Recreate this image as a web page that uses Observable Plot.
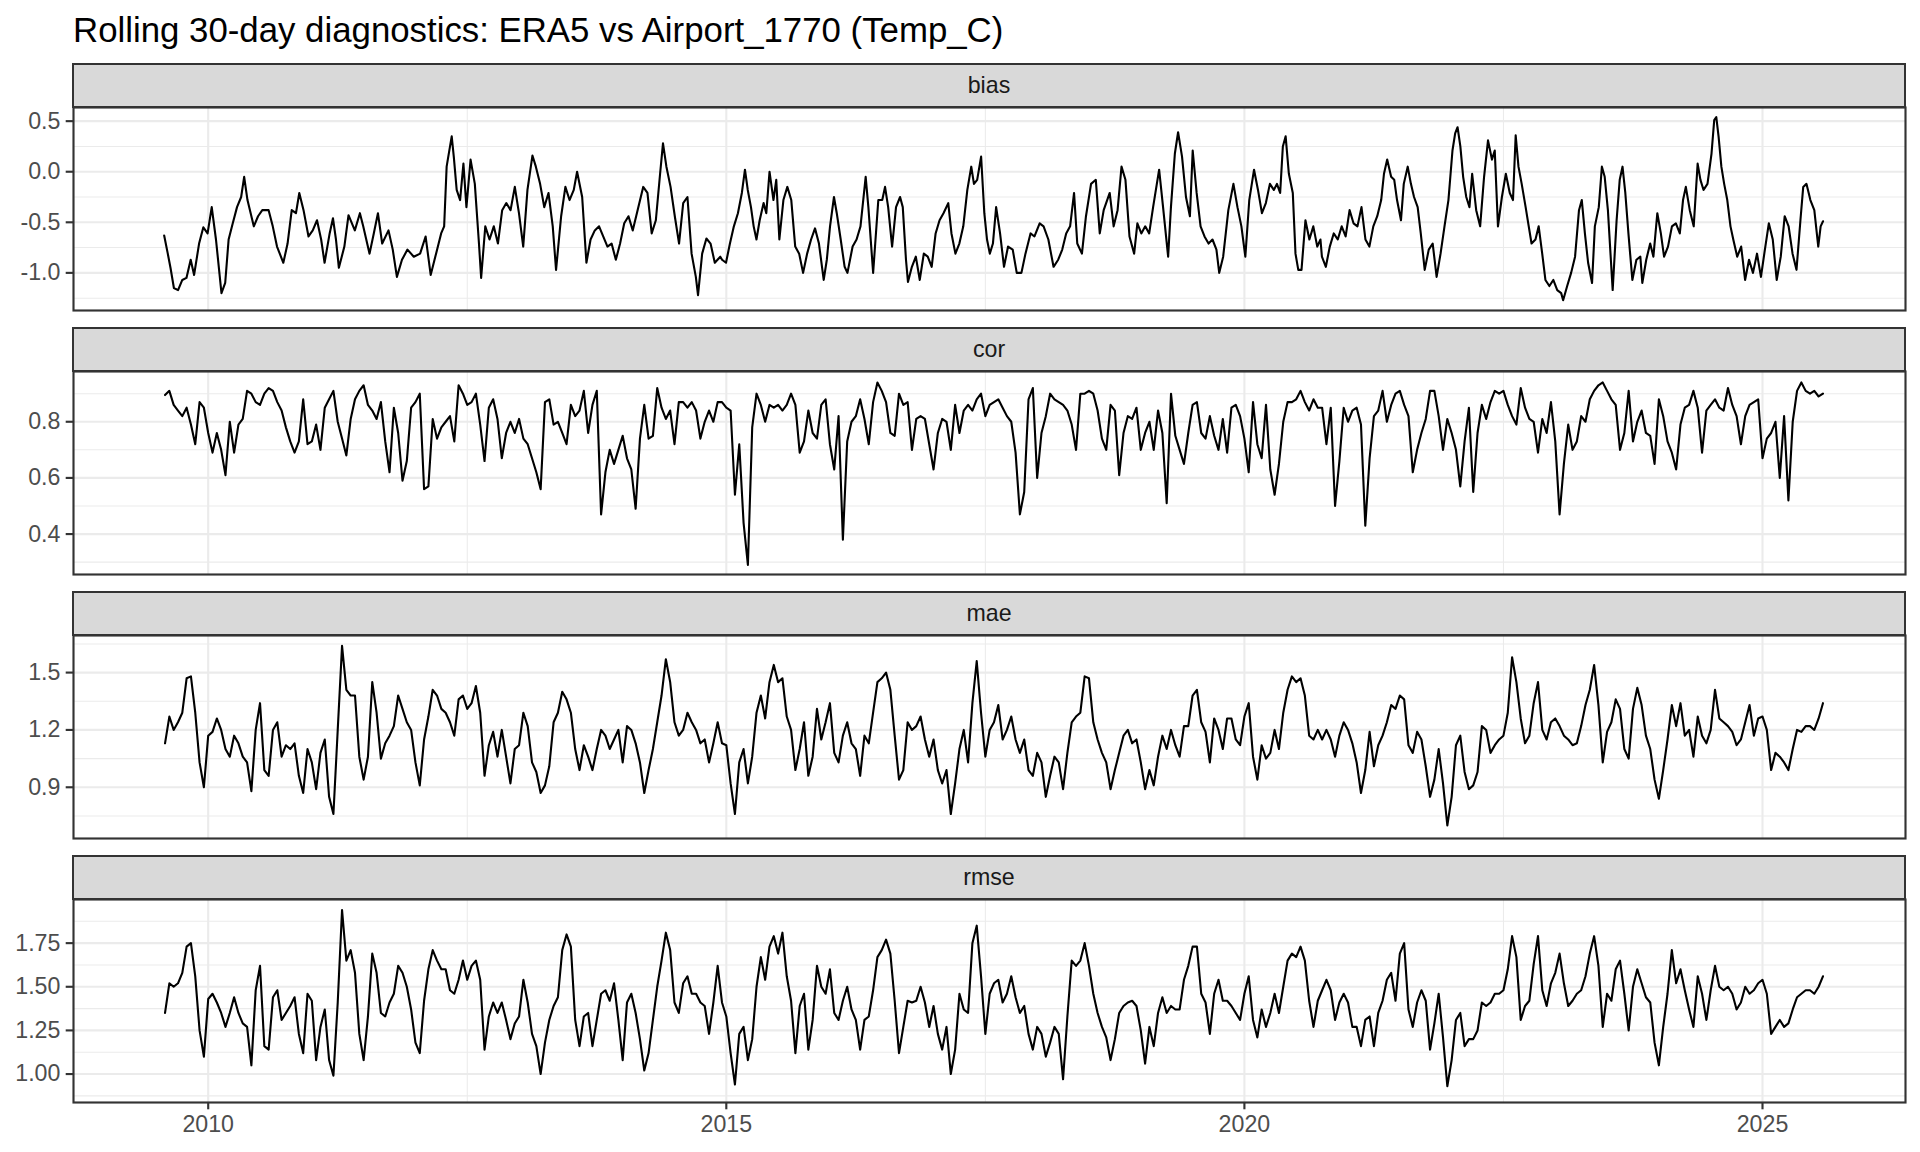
<!DOCTYPE html>
<html><head><meta charset="utf-8">
<script src="https://cdn.jsdelivr.net/npm/d3@7"></script>
<script src="https://cdn.jsdelivr.net/npm/@observablehq/plot@0.6"></script>
<style>
body{margin:0;background:#fff;}
#chart{position:relative;width:1920px;height:1152px;font-family:"Liberation Sans",Arial,sans-serif;overflow:hidden;}
.title{position:absolute;left:73px;top:9px;font-size:34.8px;line-height:1.2;color:#000;white-space:nowrap;}
.strip{position:absolute;left:72px;width:1834px;box-sizing:border-box;border:2px solid #333;background:#D9D9D9;color:#1A1A1A;font-size:23.2px;display:flex;align-items:center;justify-content:center;}
.panel{position:absolute;left:0;}
</style></head><body><div id="chart"></div><script>
const chartTitle = "Rolling 30-day diagnostics: ERA5 vs Airport_1770 (Temp_C)";
const facetNames = ["bias", "cor", "mae", "rmse"];
const yearTicks = [2010, 2015, 2020, 2025];
const yearMinor = [2012.5, 2017.5, 2022.5];

// bias: [decimal year, value]
const biasSeries = [
[2009.575,-0.63],[2009.608,-0.80],[2009.636,-0.95],[2009.669,-1.15],[2009.709,-1.17],[2009.750,-1.07],[2009.790,-1.05],[2009.831,-0.87],[2009.864,-1.02],[2009.912,-0.71],
[2009.953,-0.55],[2009.994,-0.61],[2010.034,-0.35],[2010.075,-0.67],[2010.128,-1.20],[2010.164,-1.10],[2010.197,-0.67],[2010.237,-0.51],[2010.278,-0.35],[2010.318,-0.25],
[2010.347,-0.05],[2010.379,-0.28],[2010.440,-0.54],[2010.481,-0.44],[2010.522,-0.38],[2010.583,-0.38],[2010.623,-0.54],[2010.664,-0.74],[2010.725,-0.90],[2010.766,-0.71],
[2010.806,-0.38],[2010.847,-0.41],[2010.879,-0.21],[2010.920,-0.38],[2010.968,-0.64],[2011.009,-0.58],[2011.050,-0.48],[2011.090,-0.67],[2011.123,-0.90],[2011.172,-0.61],
[2011.204,-0.46],[2011.233,-0.67],[2011.261,-0.95],[2011.314,-0.74],[2011.354,-0.43],[2011.415,-0.58],[2011.464,-0.41],[2011.496,-0.54],[2011.557,-0.81],[2011.598,-0.61],
[2011.638,-0.41],[2011.679,-0.71],[2011.740,-0.58],[2011.781,-0.77],[2011.821,-1.04],[2011.870,-0.87],[2011.923,-0.77],[2011.984,-0.84],[2012.045,-0.81],[2012.098,-0.64],
[2012.147,-1.02],[2012.199,-0.81],[2012.248,-0.61],[2012.277,-0.54],[2012.301,0.05],[2012.317,0.15],[2012.350,0.35],[2012.370,0.15],[2012.398,-0.18],[2012.431,-0.28],
[2012.463,0.08],[2012.492,-0.35],[2012.532,0.12],[2012.573,-0.12],[2012.613,-0.71],[2012.634,-1.05],[2012.674,-0.54],[2012.715,-0.67],[2012.756,-0.54],[2012.796,-0.71],
[2012.837,-0.38],[2012.877,-0.31],[2012.918,-0.38],[2012.959,-0.15],[2012.999,-0.41],[2013.040,-0.74],[2013.081,-0.18],[2013.129,0.16],[2013.162,0.05],[2013.203,-0.12],
[2013.243,-0.35],[2013.284,-0.21],[2013.325,-0.54],[2013.357,-0.97],[2013.406,-0.44],[2013.447,-0.15],[2013.487,-0.28],[2013.528,-0.18],[2013.560,0.00],[2013.609,-0.25],
[2013.650,-0.90],[2013.690,-0.67],[2013.731,-0.58],[2013.772,-0.54],[2013.812,-0.64],[2013.853,-0.74],[2013.893,-0.71],[2013.934,-0.87],[2013.975,-0.71],[2014.015,-0.51],
[2014.056,-0.44],[2014.097,-0.58],[2014.137,-0.41],[2014.198,-0.15],[2014.239,-0.21],[2014.280,-0.61],[2014.320,-0.48],[2014.361,-0.02],[2014.389,0.28],[2014.422,0.05],
[2014.462,-0.15],[2014.503,-0.44],[2014.544,-0.71],[2014.584,-0.31],[2014.625,-0.25],[2014.665,-0.81],[2014.706,-1.04],[2014.727,-1.22],[2014.767,-0.81],[2014.808,-0.66],
[2014.848,-0.71],[2014.889,-0.90],[2014.942,-0.84],
[2014.959,-0.87],[2014.997,-0.90],[2015.035,-0.71],[2015.073,-0.54],[2015.112,-0.41],[2015.150,-0.21],[2015.180,0.02],[2015.207,-0.18],[2015.238,-0.35],[2015.264,-0.54],
[2015.291,-0.67],[2015.322,-0.48],[2015.360,-0.31],[2015.386,-0.41],[2015.417,0.00],[2015.455,-0.28],[2015.482,-0.08],[2015.512,-0.67],[2015.551,-0.28],[2015.589,-0.15],
[2015.627,-0.28],[2015.665,-0.74],[2015.703,-0.81],[2015.741,-1.00],[2015.780,-0.81],[2015.818,-0.67],[2015.856,-0.56],[2015.894,-0.71],[2015.940,-1.07],[2015.970,-0.87],
[2016.001,-0.54],[2016.039,-0.25],[2016.066,-0.41],[2016.104,-0.67],[2016.142,-0.94],[2016.169,-1.00],[2016.219,-0.74],[2016.257,-0.67],[2016.295,-0.54],[2016.345,-0.05],
[2016.371,-0.35],[2016.417,-1.00],[2016.467,-0.28],[2016.505,-0.28],[2016.532,-0.15],[2016.562,-0.35],[2016.600,-0.74],[2016.638,-0.35],[2016.677,-0.25],[2016.703,-0.35],
[2016.734,-0.87],[2016.753,-1.09],[2016.791,-0.94],[2016.829,-0.84],[2016.867,-1.07],[2016.906,-0.81],[2016.944,-0.84],[2016.982,-0.94],[2017.020,-0.61],[2017.058,-0.48],
[2017.096,-0.41],[2017.142,-0.31],[2017.173,-0.61],[2017.211,-0.81],[2017.249,-0.71],[2017.287,-0.54],[2017.326,-0.18],[2017.364,0.05],[2017.390,-0.12],[2017.421,-0.08],
[2017.459,0.15],[2017.490,-0.41],[2017.516,-0.67],[2017.543,-0.81],[2017.573,-0.71],[2017.604,-0.35],[2017.642,-0.61],[2017.680,-0.94],[2017.719,-0.74],[2017.764,-0.77],
[2017.803,-1.00],[2017.848,-1.00],[2017.887,-0.81],[2017.936,-0.61],[2017.974,-0.64],[2018.024,-0.51],[2018.062,-0.54],[2018.108,-0.67],[2018.158,-0.94],[2018.203,-0.87],
[2018.242,-0.77],[2018.280,-0.61],[2018.318,-0.54],[2018.356,-0.21],[2018.387,-0.71],[2018.432,-0.81],[2018.471,-0.44],[2018.520,-0.12],[2018.566,-0.08],[2018.604,-0.61],
[2018.642,-0.38],[2018.700,-0.21],[2018.738,-0.54],[2018.776,-0.38],[2018.814,0.05],[2018.852,-0.08],[2018.891,-0.64],[2018.936,-0.81],[2018.967,-0.51],[2019.005,-0.61],
[2019.043,-0.54],[2019.081,-0.61],[2019.119,-0.35],[2019.177,0.02],[2019.215,-0.35],[2019.264,-0.84],[2019.291,-0.35],[2019.329,0.18],[2019.360,0.39],[2019.398,0.15],
[2019.436,-0.25],[2019.474,-0.44],[2019.501,0.21],[2019.539,-0.21],[2019.577,-0.54],[2019.615,-0.64],[2019.654,-0.71],[2019.692,-0.67],[2019.730,-0.77],[2019.757,-1.00],
[2019.795,-0.84],[2019.845,-0.38],[2019.894,-0.12],[2019.933,-0.35],[2019.971,-0.54],[2020.009,-0.84],[2020.047,-0.28],[2020.093,0.02],[2020.131,-0.18],[2020.169,-0.41],
[2020.207,-0.31],[2020.246,-0.12],[2020.284,-0.18],[2020.314,-0.12],[2020.345,-0.21],[2020.371,0.25],[2020.398,0.35],[2020.429,-0.02],[2020.467,-0.21],[2020.493,-0.81],
[2020.520,-0.97],[2020.551,-0.97],[2020.589,-0.48],[2020.627,-0.67],[2020.665,-0.54],[2020.703,-0.74],[2020.734,-0.67],
[2020.748,-0.84],[2020.786,-0.94],[2020.824,-0.74],[2020.862,-0.61],[2020.901,-0.67],[2020.939,-0.54],[2020.977,-0.64],[2021.015,-0.38],[2021.053,-0.51],[2021.091,-0.54],
[2021.130,-0.35],[2021.168,-0.67],[2021.206,-0.74],[2021.244,-0.54],[2021.282,-0.44],[2021.320,-0.28],[2021.347,-0.02],[2021.378,0.12],[2021.416,-0.05],[2021.446,-0.08],
[2021.473,-0.28],[2021.511,-0.48],[2021.538,-0.12],[2021.576,0.05],[2021.607,-0.12],[2021.637,-0.25],[2021.672,-0.35],[2021.702,-0.61],[2021.740,-0.97],[2021.779,-0.77],
[2021.817,-0.71],[2021.855,-1.04],[2021.893,-0.81],[2021.931,-0.54],[2021.969,-0.28],[2022.008,0.21],[2022.034,0.38],[2022.057,0.44],[2022.084,0.25],[2022.111,-0.05],
[2022.141,-0.25],[2022.172,-0.35],[2022.198,-0.02],[2022.237,-0.38],[2022.275,-0.54],[2022.313,-0.05],[2022.351,0.31],[2022.389,0.12],[2022.416,0.21],[2022.447,-0.54],
[2022.485,-0.25],[2022.523,-0.02],[2022.561,-0.21],[2022.592,-0.28],[2022.618,0.36],[2022.645,0.05],[2022.676,-0.12],[2022.714,-0.35],[2022.744,-0.54],[2022.771,-0.71],
[2022.809,-0.67],[2022.840,-0.54],[2022.874,-0.81],[2022.905,-1.07],[2022.943,-1.13],[2022.981,-1.07],[2023.019,-1.17],[2023.057,-1.20],[2023.076,-1.27],[2023.115,-1.13],
[2023.153,-1.00],[2023.191,-0.84],[2023.229,-0.38],[2023.256,-0.28],[2023.286,-0.61],[2023.317,-0.90],[2023.355,-1.10],[2023.382,-0.54],[2023.420,-0.35],[2023.450,0.05],
[2023.477,-0.05],[2023.508,-0.38],[2023.554,-1.17],[2023.592,-0.48],[2023.622,-0.08],[2023.649,0.05],[2023.676,-0.21],[2023.706,-0.61],[2023.744,-1.07],[2023.783,-0.87],
[2023.821,-0.84],[2023.840,-1.10],[2023.878,-0.87],[2023.916,-0.71],[2023.947,-0.84],[2023.985,-0.41],[2024.019,-0.61],[2024.050,-0.84],[2024.088,-0.74],[2024.126,-0.54],
[2024.164,-0.51],[2024.202,-0.61],[2024.233,-0.28],[2024.260,-0.15],[2024.298,-0.38],[2024.336,-0.54],[2024.374,0.08],[2024.401,-0.08],[2024.431,-0.18],[2024.469,-0.12],
[2024.508,0.18],[2024.534,0.51],[2024.554,0.54],[2024.576,0.35],[2024.603,0.05],[2024.630,-0.12],[2024.660,-0.28],[2024.691,-0.54],[2024.718,-0.67],[2024.756,-0.84],
[2024.794,-0.74],[2024.832,-1.07],[2024.870,-0.87],[2024.908,-1.00],[2024.947,-0.81],[2024.985,-1.04],[2025.023,-0.77],[2025.061,-0.51],[2025.099,-0.67],[2025.137,-1.07],
[2025.176,-0.84],[2025.214,-0.44],[2025.252,-0.54],[2025.290,-0.81],[2025.328,-0.97],[2025.366,-0.48],[2025.393,-0.15],[2025.424,-0.12],[2025.462,-0.28],[2025.500,-0.38],
[2025.538,-0.74],[2025.561,-0.54],[2025.584,-0.49]
];

// cor, mae, rmse: semi-monthly samples from Aug 2009 to Aug 2025
const sampleStartYear = 2009 + 7 / 12;
const samplesPerYear = 24;

const corValues = [
0.895,0.91,0.86,0.84,0.82,0.85,0.79,0.72,0.87,0.85,0.76,0.69,0.76,0.70,0.61,0.80,0.69,0.79,0.81,0.91,
0.90,0.87,0.86,0.90,0.92,0.91,0.87,0.84,0.78,0.73,0.69,0.73,0.88,0.72,0.73,0.79,0.70,0.85,0.88,0.91,
0.80,0.74,0.68,0.81,0.88,0.91,0.93,0.86,0.84,0.81,0.87,0.73,0.62,0.85,0.76,0.59,0.66,0.85,0.87,0.90,
0.56,0.57,0.81,0.74,0.78,0.80,0.82,0.73,0.93,0.90,0.86,0.87,0.90,0.79,0.66,0.85,0.88,0.81,0.67,0.76,
0.80,0.76,0.81,0.74,0.72,0.67,0.62,0.56,0.87,0.88,0.79,0.80,0.76,0.72,0.86,0.82,0.84,0.91,0.76,0.86,
0.91,0.47,0.62,0.70,0.65,0.70,0.75,0.67,0.63,0.49,0.74,0.86,0.74,0.75,0.92,0.85,0.81,0.84,0.72,0.87,
0.87,0.85,0.87,0.84,0.74,0.80,0.84,0.80,0.87,
0.87,0.85,0.84,0.54,0.72,0.44,0.29,0.78,0.90,0.86,0.80,0.86,0.85,0.86,0.84,0.86,0.90,0.86,0.69,0.73,
0.84,0.76,0.74,0.86,0.88,0.72,0.63,0.82,0.38,0.73,0.80,0.82,0.88,0.81,0.72,0.87,0.94,0.91,0.87,0.76,
0.75,0.90,0.86,0.87,0.70,0.81,0.82,0.81,0.72,0.63,0.76,0.81,0.80,0.70,0.86,0.76,0.84,0.86,0.84,0.88,
0.90,0.82,0.86,0.87,0.88,0.85,0.82,0.80,0.69,0.47,0.55,0.88,0.92,0.60,0.76,0.82,0.90,0.88,0.87,0.86,
0.84,0.79,0.70,0.90,0.90,0.91,0.90,0.84,0.74,0.70,0.86,0.84,0.61,0.76,0.82,0.81,0.85,0.70,0.76,0.80,
0.70,0.84,0.76,0.51,0.90,0.75,0.70,0.65,0.76,0.86,0.87,0.76,0.74,0.82,0.75,0.70,0.81,0.69,0.85,0.86,
0.82,0.74,0.62,0.87,0.72,0.67,0.86,0.63,0.54,0.65,0.80,0.87,0.87,0.88,0.91,0.87,0.84,0.88,0.85,
0.85,0.72,0.85,0.50,0.66,0.85,0.80,0.84,0.85,0.79,0.43,0.67,0.82,0.84,0.91,0.80,0.86,0.90,0.91,0.86,
0.82,0.62,0.70,0.76,0.81,0.91,0.91,0.82,0.70,0.81,0.76,0.70,0.57,0.73,0.85,0.55,0.76,0.86,0.81,0.87,
0.91,0.90,0.91,0.86,0.82,0.79,0.92,0.85,0.81,0.80,0.69,0.81,0.76,0.87,0.73,0.47,0.65,0.79,0.70,0.73,
0.82,0.80,0.88,0.91,0.93,0.94,0.91,0.88,0.86,0.70,0.76,0.91,0.73,0.80,0.84,0.76,0.75,0.65,0.88,0.82,
0.73,0.69,0.63,0.79,0.85,0.86,0.91,0.85,0.69,0.84,0.86,0.88,0.85,0.84,0.92,0.86,0.82,0.72,0.82,0.86,
0.87,0.88,0.67,0.74,0.76,0.80,0.60,0.82,0.52,0.80,0.91,0.94,0.91,0.90,0.91,0.89,0.90
];

const maeValues = [
1.13,1.27,1.20,1.24,1.29,1.47,1.48,1.29,1.03,0.90,1.17,1.19,1.26,1.20,1.10,1.06,1.17,1.13,1.06,1.03,
0.88,1.20,1.34,0.99,0.96,1.20,1.24,1.06,1.12,1.10,1.13,0.96,0.87,1.10,1.03,0.89,1.08,1.15,0.85,0.76,
1.20,1.64,1.41,1.38,1.38,1.06,0.94,1.06,1.45,1.29,1.05,1.13,1.17,1.22,1.38,1.31,1.24,1.20,1.03,0.91,
1.15,1.27,1.41,1.38,1.31,1.29,1.24,1.17,1.36,1.38,1.31,1.34,1.43,1.29,0.96,1.12,1.19,1.06,1.20,1.06,
0.92,1.10,1.12,1.29,1.22,1.03,0.98,0.87,0.91,1.01,1.24,1.29,1.40,1.36,1.29,1.10,0.99,1.12,1.06,0.99,
1.10,1.20,1.17,1.10,1.15,1.20,1.03,1.22,1.20,1.13,1.03,0.87,0.99,1.10,1.24,1.38,1.57,1.45,1.24,1.17,
1.20,1.29,1.24,1.20,1.13,1.15,1.03,1.13,1.24,
1.13,1.12,0.92,0.76,1.03,1.10,0.92,1.06,1.29,1.38,1.26,1.45,1.54,1.45,1.47,1.27,1.20,0.99,1.10,1.24,
0.96,1.06,1.31,1.15,1.24,1.34,1.08,1.03,1.17,1.24,1.13,1.10,0.96,1.17,1.13,1.29,1.45,1.47,1.50,1.41,
1.17,0.94,0.99,1.24,1.20,1.22,1.27,1.15,1.06,1.15,0.99,0.92,0.99,0.76,0.92,1.10,1.20,1.03,1.34,1.56,
1.29,1.06,1.20,1.24,1.33,1.15,1.20,1.27,1.15,1.08,1.15,0.99,0.96,1.08,1.03,0.85,0.96,1.06,1.03,0.89,
1.08,1.24,1.27,1.29,1.48,1.47,1.24,1.15,1.08,1.03,0.89,0.99,1.08,1.17,1.20,1.13,1.15,1.03,0.89,0.99,
0.91,1.06,1.17,1.10,1.20,1.12,1.06,1.22,1.22,1.38,1.41,1.24,1.19,1.03,1.26,1.20,1.10,1.26,1.26,1.15,
1.12,1.27,1.34,1.06,0.94,1.12,1.05,1.08,1.20,1.10,1.29,1.41,1.48,1.45,1.47,1.38,1.17,1.15,1.20,
1.15,1.20,1.15,1.06,1.17,1.24,1.20,1.13,1.03,0.87,0.99,1.19,1.01,1.12,1.17,1.24,1.33,1.31,1.38,1.36,
1.12,1.08,1.19,1.15,1.01,0.85,0.94,1.10,0.92,0.70,0.85,1.12,1.17,0.98,0.89,0.91,0.98,1.22,1.20,1.08,
1.12,1.15,1.17,1.29,1.58,1.45,1.26,1.13,1.17,1.34,1.45,1.20,1.15,1.24,1.26,1.22,1.17,1.15,1.12,1.13,
1.22,1.33,1.41,1.54,1.33,1.03,1.19,1.24,1.36,1.31,1.10,1.05,1.31,1.42,1.33,1.17,1.10,0.94,0.84,0.99,
1.15,1.33,1.22,1.34,1.17,1.20,1.06,1.27,1.17,1.13,1.20,1.41,1.26,1.24,1.22,1.19,1.12,1.15,1.24,1.33,
1.17,1.26,1.27,1.20,0.99,1.08,1.06,1.03,0.99,1.10,1.20,1.19,1.22,1.22,1.20,1.26,1.34
];

const rmseValues = [
1.35,1.52,1.50,1.52,1.58,1.73,1.75,1.56,1.25,1.10,1.43,1.46,1.41,1.35,1.27,1.35,1.44,1.35,1.29,1.27,
1.05,1.48,1.62,1.16,1.14,1.44,1.48,1.31,1.35,1.39,1.44,1.23,1.12,1.46,1.42,1.08,1.27,1.37,1.08,0.99,
1.41,1.94,1.65,1.71,1.58,1.23,1.08,1.33,1.69,1.58,1.35,1.33,1.41,1.46,1.62,1.58,1.50,1.37,1.18,1.12,
1.42,1.60,1.71,1.65,1.60,1.60,1.48,1.46,1.54,1.65,1.54,1.62,1.65,1.54,1.14,1.33,1.41,1.35,1.41,1.31,
1.20,1.29,1.33,1.54,1.41,1.23,1.16,1.00,1.18,1.31,1.39,1.44,1.71,1.80,1.73,1.31,1.16,1.33,1.35,1.16,
1.31,1.46,1.48,1.42,1.52,1.31,1.08,1.41,1.46,1.35,1.20,1.02,1.12,1.31,1.50,1.65,1.81,1.71,1.41,1.35,
1.52,1.56,1.46,1.46,1.41,1.39,1.23,1.41,1.62,
1.41,1.33,1.12,0.94,1.23,1.27,1.08,1.20,1.50,1.67,1.54,1.73,1.79,1.69,1.81,1.56,1.42,1.12,1.39,1.46,
1.14,1.31,1.62,1.50,1.46,1.60,1.35,1.31,1.42,1.50,1.37,1.31,1.14,1.31,1.33,1.48,1.67,1.71,1.77,1.69,
1.42,1.12,1.27,1.42,1.41,1.42,1.50,1.41,1.27,1.39,1.23,1.14,1.27,1.00,1.14,1.46,1.37,1.35,1.75,1.85,
1.56,1.23,1.46,1.52,1.54,1.41,1.46,1.56,1.44,1.35,1.39,1.23,1.14,1.27,1.23,1.10,1.18,1.27,1.23,0.97,
1.33,1.65,1.62,1.65,1.75,1.62,1.46,1.35,1.27,1.21,1.08,1.20,1.35,1.39,1.41,1.42,1.39,1.25,1.06,1.27,
1.16,1.35,1.44,1.35,1.39,1.37,1.37,1.54,1.62,1.73,1.73,1.46,1.41,1.23,1.46,1.54,1.42,1.42,1.39,1.35,
1.31,1.46,1.56,1.31,1.21,1.37,1.27,1.35,1.46,1.35,1.50,1.65,1.69,1.67,1.73,1.65,1.42,1.27,1.42,
1.48,1.54,1.48,1.31,1.41,1.46,1.41,1.27,1.27,1.16,1.31,1.33,1.16,1.35,1.42,1.54,1.58,1.42,1.69,1.75,
1.37,1.27,1.41,1.48,1.42,1.14,1.29,1.46,1.21,0.93,1.08,1.31,1.35,1.16,1.20,1.20,1.25,1.41,1.39,1.41,
1.46,1.46,1.48,1.60,1.79,1.67,1.31,1.39,1.42,1.63,1.79,1.48,1.39,1.52,1.58,1.69,1.52,1.39,1.42,1.46,
1.48,1.56,1.69,1.79,1.62,1.27,1.46,1.42,1.60,1.65,1.46,1.25,1.50,1.60,1.52,1.44,1.41,1.18,1.05,1.27,
1.46,1.71,1.52,1.60,1.48,1.37,1.27,1.56,1.46,1.31,1.48,1.62,1.50,1.48,1.50,1.46,1.37,1.41,1.50,1.46,
1.48,1.52,1.54,1.46,1.23,1.27,1.31,1.27,1.29,1.37,1.44,1.46,1.48,1.48,1.46,1.50,1.56
];

// y-axis breaks per facet
const biasTicks = [-1, -0.5, 0, 0.5], biasMinor = [-1.25, -0.75, -0.25, 0.25];
const corTicks = [0.4, 0.6, 0.8], corMinor = [0.3, 0.5, 0.7, 0.9];
const maeTicks = [0.9, 1.2, 1.5], maeMinor = [0.75, 1.05, 1.35, 1.65];
const rmseTicks = [1.0, 1.25, 1.5, 1.75], rmseMinor = [0.875, 1.125, 1.375, 1.625, 1.875];

// ---- build ----
const sampled = vals => vals.map((v, i) => ({t: sampleStartYear + i / samplesPerYear, v}));
const facets = [
  {name: facetNames[0], data: biasSeries.map(([t, v]) => ({t, v})), domain: [-1.372, 0.635], ticks: biasTicks, minor: biasMinor, digits: 1},
  {name: facetNames[1], data: sampled(corValues), domain: [0.256, 0.979], ticks: corTicks, minor: corMinor, digits: 1},
  {name: facetNames[2], data: sampled(maeValues), domain: [0.632, 1.694], ticks: maeTicks, minor: maeMinor, digits: 1},
  {name: facetNames[3], data: sampled(rmseValues), domain: [0.837, 2.0], ticks: rmseTicks, minor: rmseMinor, digits: 2}
];

const chart = document.getElementById("chart");
const t = document.createElement("div");
t.className = "title"; t.textContent = chartTitle; chart.appendChild(t);

const xDomain = [2008.70, 2026.38];
const panelH = 203;
const FONT = '"Liberation Sans", Arial, sans-serif';
const AXIS_FS = 23.2;
facets.forEach((f, idx) => {
  const top = 107 + 264 * idx;
  const last = idx === facets.length - 1;
  const mb = last ? 48 : 2;
  const strip = document.createElement("div");
  strip.className = "strip";
  strip.style.top = (top - 44) + "px";
  strip.style.height = "45px";
  strip.textContent = f.name;
  const plot = Plot.plot({
    width: 1920, height: panelH + 2 + mb,
    marginLeft: 73, marginRight: 15, marginTop: 2, marginBottom: mb,
    style: {fontFamily: FONT, fontSize: AXIS_FS + "px", background: "transparent", overflow: "visible"},
    x: {domain: xDomain, axis: null},
    y: {domain: f.domain, axis: null},
    marks: [
      Plot.ruleY(f.minor, {stroke: "#EBEBEB", strokeWidth: 1.07}),
      Plot.ruleX(yearMinor, {stroke: "#EBEBEB", strokeWidth: 1.07}),
      Plot.ruleY(f.ticks, {stroke: "#EBEBEB", strokeWidth: 2.13}),
      Plot.ruleX(yearTicks, {stroke: "#EBEBEB", strokeWidth: 2.13}),
      Plot.line(f.data, {x: "t", y: "v", stroke: "#000", strokeWidth: 2.1}),
      Plot.frame({stroke: "#333", strokeWidth: 2.13}),
      Plot.axisY(f.ticks, {label: null, tickFormat: d => d.toFixed(f.digits), tickSize: 7.3, tickPadding: 5.8, stroke: "#333", strokeWidth: 2.13, fill: "#4D4D4D", fontSize: AXIS_FS}),
      last ? Plot.axisX(yearTicks, {label: null, tickFormat: d => String(d), tickSize: 7.3, tickPadding: 5.8, stroke: "#333", strokeWidth: 2.13, fill: "#4D4D4D", fontSize: AXIS_FS}) : null
    ]
  });
  plot.classList.add("panel");
  plot.style.position = "absolute";
  plot.style.top = (top - 2) + "px";
  plot.style.left = "0px";
  chart.appendChild(plot);
  chart.appendChild(strip);
});
</script></body></html>
